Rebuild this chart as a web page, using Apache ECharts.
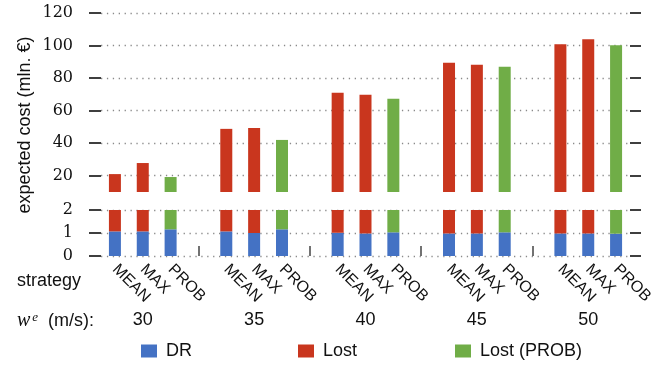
<!DOCTYPE html>
<html>
<head>
<meta charset="utf-8">
<script src="https://cdn.jsdelivr.net/npm/echarts@6/dist/echarts.min.js"></script>
<style>
  html, body { margin: 0; padding: 0; background: #fff; }
  #chart { width: 667px; height: 368px; }
</style>
</head>
<body>
<div id="chart"></div>
<script>
// Design wind speed groups and dispatch strategies
const windSpeeds = ['30', '35', '40', '45', '50'];
const strategies = ['MEAN', 'MAX', 'PROB'];

// Expected demand-response cost per wind speed (mln. €)
const drMean = [1.07, 1.07, 1.01, 0.98, 0.98];
const drMax  = [1.07, 1.00, 0.98, 0.98, 0.98];
const drProb = [1.16, 1.16, 1.03, 1.03, 0.97];

// Expected total cost (DR + lost load) per wind speed (mln. €)
const totalMean = [21.0, 48.8, 71.0, 89.4, 100.8];
const totalMax  = [27.8, 49.4, 69.7, 88.2, 103.9];
const totalProb = [19.2, 42.0, 67.3, 87.0, 100.2];

// Value-axis tick labels of the two panels
const upperTicks = [20, 40, 60, 80, 100, 120];
const lowerTicks = [0, 1, 2];

// Build one slot per strategy, with an empty spacer slot between wind groups
const slotLabels = [];
const windLabels = [];
const drData = [];
const lostData = [];
const lostProbData = [];
const drBy = [drMean, drMax, drProb];
const totalBy = [totalMean, totalMax, totalProb];
windSpeeds.forEach((w, gi) => {
  strategies.forEach((s, si) => {
    slotLabels.push(s);
    windLabels.push(si === 1 ? w : '');
    const dr = drBy[si][gi];
    const lost = +(totalBy[si][gi] - dr).toFixed(3);
    drData.push(dr);
    lostData.push(s === 'PROB' ? '-' : lost);
    lostProbData.push(s === 'PROB' ? lost : '-');
  });
  if (gi < windSpeeds.length - 1) {
    slotLabels.push('');
    windLabels.push('');
    drData.push('-');
    lostData.push('-');
    lostProbData.push('-');
  }
});

const BLUE = '#4472C4', RED = '#C9361E', GREEN = '#70AD47';
const SANS = 'Liberation Sans, Arial, sans-serif';
const SERIF = 'DejaVu Serif, serif';

const gridLeft = 101, gridRight = 37;
const dotted = { color: '#8a8a8a', width: 1.3, type: [1.3, 4.6] };

function leftAxis(gridIndex, min, max, ticks) {
  return {
    type: 'value', gridIndex, min, max, position: 'left',
    axisLine: { show: false },
    axisTick: { show: true, inside: false, length: 12, customValues: ticks,
                lineStyle: { color: '#000', width: 1.5 } },
    axisLabel: { customValues: ticks, margin: 28, color: '#111',
                 fontFamily: SERIF, fontSize: 16 },
    splitLine: { show: true, lineStyle: dotted }
  };
}
function rightAxis(gridIndex, min, max, ticks) {
  return {
    type: 'value', gridIndex, min, max, position: 'right',
    axisLine: { show: false },
    axisTick: { show: true, inside: false, length: 11, customValues: ticks,
                lineStyle: { color: '#000', width: 1.5 } },
    axisLabel: { show: false },
    splitLine: { show: false }
  };
}

function barSeries(name, data, color, g) {
  return {
    name, type: 'bar', data, stack: 'cost' + g,
    xAxisIndex: g, yAxisIndex: g * 2,
    barWidth: 12, clip: true,
    itemStyle: { color },
    emphasis: { disabled: true },
    animation: false
  };
}

const chart = echarts.init(document.getElementById('chart'), null, { renderer: 'canvas' });
chart.setOption({
  animation: false,
  backgroundColor: '#fff',
  grid: [
    { left: gridLeft, right: gridRight, top: 13, height: 179 },
    { left: gridLeft, right: gridRight, top: 210, height: 46 }
  ],
  xAxis: [
    { type: 'category', gridIndex: 0, data: slotLabels, show: false },
    {
      type: 'category', gridIndex: 1, data: slotLabels, position: 'bottom',
      axisLine: { show: false },
      axisTick: { show: true, inside: true, length: 10, alignWithLabel: true,
                  interval: (i, v) => v === '',
                  lineStyle: { color: '#444', width: 1.5 } },
      axisLabel: { interval: 0, rotate: -45, margin: 11, color: '#111',
                   fontFamily: SANS, fontSize: 16 }
    },
    {
      type: 'category', gridIndex: 1, data: windLabels, position: 'bottom', offset: 55,
      axisLine: { show: false }, axisTick: { show: false },
      axisLabel: { interval: 0, margin: 0, color: '#111', fontFamily: SANS, fontSize: 18 }
    }
  ],
  yAxis: [
    leftAxis(0, 10, 120, upperTicks),
    rightAxis(0, 10, 120, upperTicks),
    leftAxis(1, 0, 2, lowerTicks),
    rightAxis(1, 0, 2, lowerTicks)
  ],
  legend: [
    { data: ['DR'], left: 141, top: 342 },
    { data: ['Lost'], left: 298, top: 342 },
    { data: ['Lost (PROB)'], left: 455, top: 342 }
  ].map(l => Object.assign(l, {
    padding: 0, icon: 'rect', itemWidth: 16, itemHeight: 13, selectedMode: false,
    textStyle: { fontFamily: SANS, fontSize: 18, color: '#111', padding: [0, 0, 0, 4] }
  })),
  series: [
    barSeries('DR', drData, BLUE, 0),
    barSeries('Lost', lostData, RED, 0),
    barSeries('Lost (PROB)', lostProbData, GREEN, 0),
    barSeries('DR', drData, BLUE, 1),
    barSeries('Lost', lostData, RED, 1),
    barSeries('Lost (PROB)', lostProbData, GREEN, 1)
  ],
  graphic: [
    {
      type: 'text', x: 25, y: 125, rotation: Math.PI / 2,
      style: { text: 'expected cost (mln. €)', fill: '#111', font: '18px ' + SANS,
               align: 'center', verticalAlign: 'middle' }
    },
    {
      type: 'text', x: 17, y: 281,
      style: { text: 'strategy', fill: '#111', font: '18px ' + SANS,
               align: 'left', verticalAlign: 'middle' }
    },
    {
      type: 'text', x: 17, y: 321,
      style: {
        text: '{w|w}{e|e}{t|(m/s):}',
        align: 'left', verticalAlign: 'middle', fill: '#111',
        rich: {
          w: { fontFamily: 'Liberation Serif, serif', fontStyle: 'italic', fontSize: 20, fill: '#111' },
          e: { fontFamily: 'Liberation Serif, serif', fontStyle: 'italic', fontSize: 13,
               verticalAlign: 'top', padding: [0, 0, 0, 2], fill: '#111' },
          t: { fontFamily: SANS, fontSize: 18, fill: '#111', padding: [0, 0, 0, 10] }
        }
      }
    }
  ]
});
</script>
</body>
</html>
